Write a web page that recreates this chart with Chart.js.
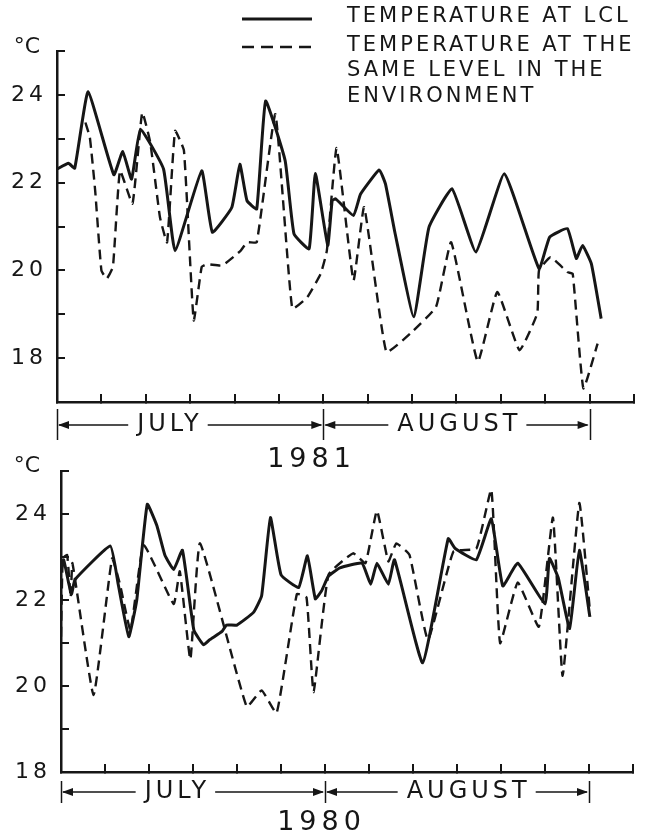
<!DOCTYPE html>
<html>
<head>
<meta charset="utf-8">
<script src="https://cdn.jsdelivr.net/npm/chart.js@4"></script>
<style>
html, body { margin: 0; padding: 0; background: #fff; }
#wrap { position: relative; width: 648px; height: 839px; }
#c81 { position: absolute; left: 0; top: 0; }
#c80 { position: absolute; left: 0; top: 440px; }
</style>
</head>
<body>
<div id="wrap">
  <canvas id="c81" width="648" height="480"></canvas>
  <canvas id="c80" width="648" height="399"></canvas>
</div>
<script>
// x values are days counted from 1 July (5 days per tick)
let lcl81Day  = [0, 1.3, 2.0, 3.5, 6.4, 7.4, 8.4, 9.4, 12.0, 13.3, 16.3, 17.5, 19.7, 20.6, 21.4, 22.5, 23.5, 25.7, 26.7, 28.4,
                 29.1, 30.5, 31.0, 31.4, 33.4, 34.2, 36.3, 37.0, 38.1, 40.2, 41.9, 44.5, 47.2, 50.4, 54.3, 55.5, 57.5, 58.5, 59.2, 60.2, 61.3];
let lcl81Temp = [22.31, 22.44, 22.33, 24.07, 22.18, 22.71, 22.08, 23.22, 22.31, 20.45, 22.27, 20.87, 21.44, 22.42, 21.59, 21.40, 23.86, 22.5, 20.83, 20.49,
                 22.21, 20.57, 21.59, 21.63, 21.25, 21.74, 22.29, 21.97, 20.83, 18.94, 20.98, 21.86, 20.42, 22.2, 20.04, 20.76, 20.95, 20.27, 20.57, 20.15, 18.90];

let env81Day  = [3.2, 3.7, 4.3, 5.0, 5.6, 6.3, 7.1, 8.5, 9.6, 10.5, 11.6, 12.4, 13.3, 14.3, 15.4, 16.3, 16.9, 18.6, 20.7, 21.4,
                 22.5, 24.6, 26.5, 28.2, 29.7, 30.4, 31.5, 33.4, 34.6, 37.1, 39.8, 42.7, 44.4, 47.4, 49.6, 52.1, 54.1, 54.3, 55.6, 57.5,
                 58.1, 59.3, 60.9];
let env81Temp = [23.37, 23.03, 21.82, 20.0, 19.81, 20.08, 22.27, 21.52, 23.6, 22.92, 21.21, 20.64, 23.18, 22.73, 18.86, 20.08, 20.14, 20.11, 20.45, 20.64,
                 20.64, 23.56, 19.13, 19.39, 19.92, 20.45, 22.79, 19.77, 21.44, 18.14, 18.56, 19.17, 20.64, 17.92, 19.51, 18.18, 19.02, 20.0, 20.30, 19.96,
                 19.92, 17.31, 18.33];

let lcl80Day  = [0, 0.3, 0.9, 1.2, 1.6, 5.6, 6.5, 7.7, 8.6, 9.8, 10.9, 11.8, 12.8, 13.8, 15.1, 16.2, 16.9, 18.3, 18.8, 20.0,
                 21.9, 22.8, 23.8, 25.0, 27.0, 28.0, 28.9, 29.6, 30.4, 31.7, 34.2, 35.2, 35.9, 37.2, 37.9, 41.1, 44.0, 44.8, 47.2, 48.9,
                 50.2, 51.9, 55.0, 55.5, 56.5, 57.8, 58.9, 60.1];
let lcl80Temp = [22.67, 22.94, 22.37, 22.14, 22.48, 23.26, 22.37, 21.15, 21.99, 24.23, 23.73, 23.05, 22.71, 23.16, 21.30, 20.96, 21.08, 21.27, 21.42, 21.42,
                 21.72, 22.10, 23.92, 22.59, 22.29, 23.03, 22.03, 22.21, 22.56, 22.75, 22.86, 22.37, 22.86, 22.37, 22.94, 20.54, 23.43, 23.20, 22.94, 23.89,
                 22.33, 22.86, 21.91, 22.97, 22.52, 21.34, 23.16, 21.61];

let env80Day  = [0, 0.2, 0.7, 1.1, 1.3, 3.7, 5.8, 6.7, 7.9, 9.4, 12.8, 13.5, 14.7, 15.8, 21.1, 22.8, 24.5, 26.8, 27.9, 28.7,
                 30.4, 33.2, 34.6, 35.9, 37.2, 38.1, 39.6, 41.7, 44.6, 47.2, 48.9, 49.9, 51.9, 54.3, 55.9, 57.0, 58.9, 60.1];
let env80Temp = [21.15, 22.97, 23.05, 22.06, 22.86, 19.79, 22.97, 22.37, 21.30, 23.28, 21.91, 22.67, 20.62, 23.32, 19.52, 19.90, 19.37, 22.14, 22.06, 19.86,
                 22.59, 23.09, 22.86, 24.08, 22.90, 23.32, 23.05, 21.08, 23.13, 23.20, 24.57, 21.00, 22.41, 21.38, 23.92, 20.24, 24.26, 21.76];

let monthNames = ['JULY', 'AUGUST'];
let monthEdges = [0, 30, 60];
let yLabels = [18, 20, 22, 24];
let legendLines = [['TEMPERATURE AT LCL'], ['TEMPERATURE AT THE', 'SAME LEVEL IN THE', 'ENVIRONMENT']];

let ink = '#161616';
let fam = '"DejaVu Sans", sans-serif';

function toPoints(days, temps) {
  return days.map((d, i) => ({ x: d, y: temps[i] }));
}

function spacedText(ctx, text, x, y, size, spacing, align) {
  ctx.save();
  ctx.font = size + 'px ' + fam;
  ctx.letterSpacing = spacing + 'px';
  ctx.fillStyle = ink;
  ctx.textBaseline = 'middle';
  ctx.textAlign = 'left';
  let w = ctx.measureText(text).width - spacing;
  let left = x;
  if (align === 'center') left = x - w / 2;
  if (align === 'right') left = x - w;
  ctx.fillText(text, left, y);
  ctx.restore();
  return { left: left, right: left + w };
}

function arrowHead(ctx, x, y, dir) {
  ctx.beginPath();
  ctx.moveTo(x, y);
  ctx.lineTo(x - dir * 11, y - 4);
  ctx.lineTo(x - dir * 11, y + 4);
  ctx.closePath();
  ctx.fill();
}

// tick labels in the original are widely spaced
let spacing = {
  id: 'spacing',
  beforeDraw(chart) { chart.ctx.letterSpacing = '4px'; },
  afterDraw(chart) { chart.ctx.letterSpacing = '0px'; }
};

let deco = {
  id: 'deco',
  afterDraw(chart, args, o) {
    let ctx = chart.ctx;
    let xs = chart.scales.x;
    ctx.save();
    ctx.strokeStyle = ink;
    ctx.fillStyle = ink;

    spacedText(ctx, '°C', o.unitX, o.unitY, 22, 0, 'center');

    // month brackets under the axis
    ctx.lineWidth = 1.5;
    monthEdges.forEach(d => {
      let px = Math.round(xs.getPixelForValue(d)) + 0.5;
      ctx.beginPath();
      ctx.moveTo(px, o.barTop);
      ctx.lineTo(px, o.barBottom);
      ctx.stroke();
    });
    monthNames.forEach((m, i) => {
      let x0 = xs.getPixelForValue(monthEdges[i]);
      let x1 = xs.getPixelForValue(monthEdges[i + 1]);
      let t = spacedText(ctx, m, xs.getPixelForValue(o.monthAt[i]), o.lineY, 24, 4, 'center');
      ctx.beginPath();
      ctx.moveTo(x0 + 2, o.lineY);
      ctx.lineTo(t.left - 9, o.lineY);
      ctx.moveTo(t.right + 9, o.lineY);
      ctx.lineTo(x1 - 2, o.lineY);
      ctx.stroke();
      arrowHead(ctx, x0 + 1, o.lineY, -1);
      arrowHead(ctx, x1 - 1, o.lineY, 1);
    });

    spacedText(ctx, o.year, o.yearX, o.yearY, 27, 5, 'center');

    if (o.legend) {
      let ds = chart.data.datasets;
      ctx.lineWidth = ds[0].borderWidth;
      ctx.beginPath();
      ctx.moveTo(242, 19);
      ctx.lineTo(312, 19);
      ctx.stroke();
      ctx.lineWidth = ds[1].borderWidth;
      ctx.setLineDash([12, 7]);
      ctx.beginPath();
      ctx.moveTo(242, 47);
      ctx.lineTo(312, 47);
      ctx.stroke();
      ctx.setLineDash([]);
      let rowsY = [[17], [46, 71, 97]];
      legendLines.forEach((lines, i) => {
        lines.forEach((ln, j) => spacedText(ctx, ln, 347, rowsY[i][j], 21, 3, 'left'));
      });
    }
    ctx.restore();
  }
};

function axisStyle() {
  return {
    grid: { display: true, drawOnChartArea: false, drawTicks: true, tickLength: -8, color: ink, lineWidth: 2 },
    border: { display: true, color: ink, width: 2.5 }
  };
}

function panel(id, lclDay, lclTemp, envDay, envTemp, yMin, axisWidth, pad, decoOpts) {
  return new Chart(document.getElementById(id), {
    type: 'line',
    data: {
      datasets: [{
        label: legendLines[0].join(' '),
        data: toPoints(lclDay, lclTemp),
        borderColor: ink,
        borderWidth: 3,
        pointRadius: 0,
        tension: 0.12,
        fill: false
      }, {
        label: legendLines[1].join(' '),
        data: toPoints(envDay, envTemp),
        borderColor: ink,
        borderWidth: 2.4,
        borderDash: [10, 6],
        pointRadius: 0,
        tension: 0.12,
        fill: false
      }]
    },
    options: {
      responsive: false,
      animation: false,
      layout: { padding: pad },
      plugins: { legend: { display: false }, tooltip: { enabled: false }, deco: decoOpts },
      scales: {
        x: Object.assign({
          type: 'linear', min: 0, max: 65,
          ticks: { display: false, stepSize: 5 },
          afterFit: s => { s.height = 0; }
        }, axisStyle()),
        y: Object.assign({
          type: 'linear', min: yMin, max: 25,
          ticks: {
            stepSize: 1, autoSkip: false, padding: 18, color: ink,
            font: { family: 'DejaVu Sans', size: 22 },
            callback: v => yLabels.includes(v) ? String(v) : ''
          },
          afterFit: s => { s.width = axisWidth; }
        }, axisStyle())
      }
    },
    plugins: [spacing, deco]
  });
}

panel('c81', lcl81Day, lcl81Temp, env81Day, env81Temp, 17, 57,
  { top: 51, right: 14, bottom: 78, left: 0 },
  { unitX: 27, unitY: 47, lineY: 425, barTop: 409, barBottom: 440, monthAt: [12.5, 45.1],
    year: '1981', yearX: 309, yearY: 460, legend: true });

panel('c80', lcl80Day, lcl80Temp, env80Day, env80Temp, 18, 61,
  { top: 25, right: 15, bottom: 67, left: 0 },
  { unitX: 27, unitY: 26, lineY: 352, barTop: 341, barBottom: 363, monthAt: [13, 46.1],
    year: '1980', yearX: 319, yearY: 383, legend: false });
</script>
</body>
</html>
